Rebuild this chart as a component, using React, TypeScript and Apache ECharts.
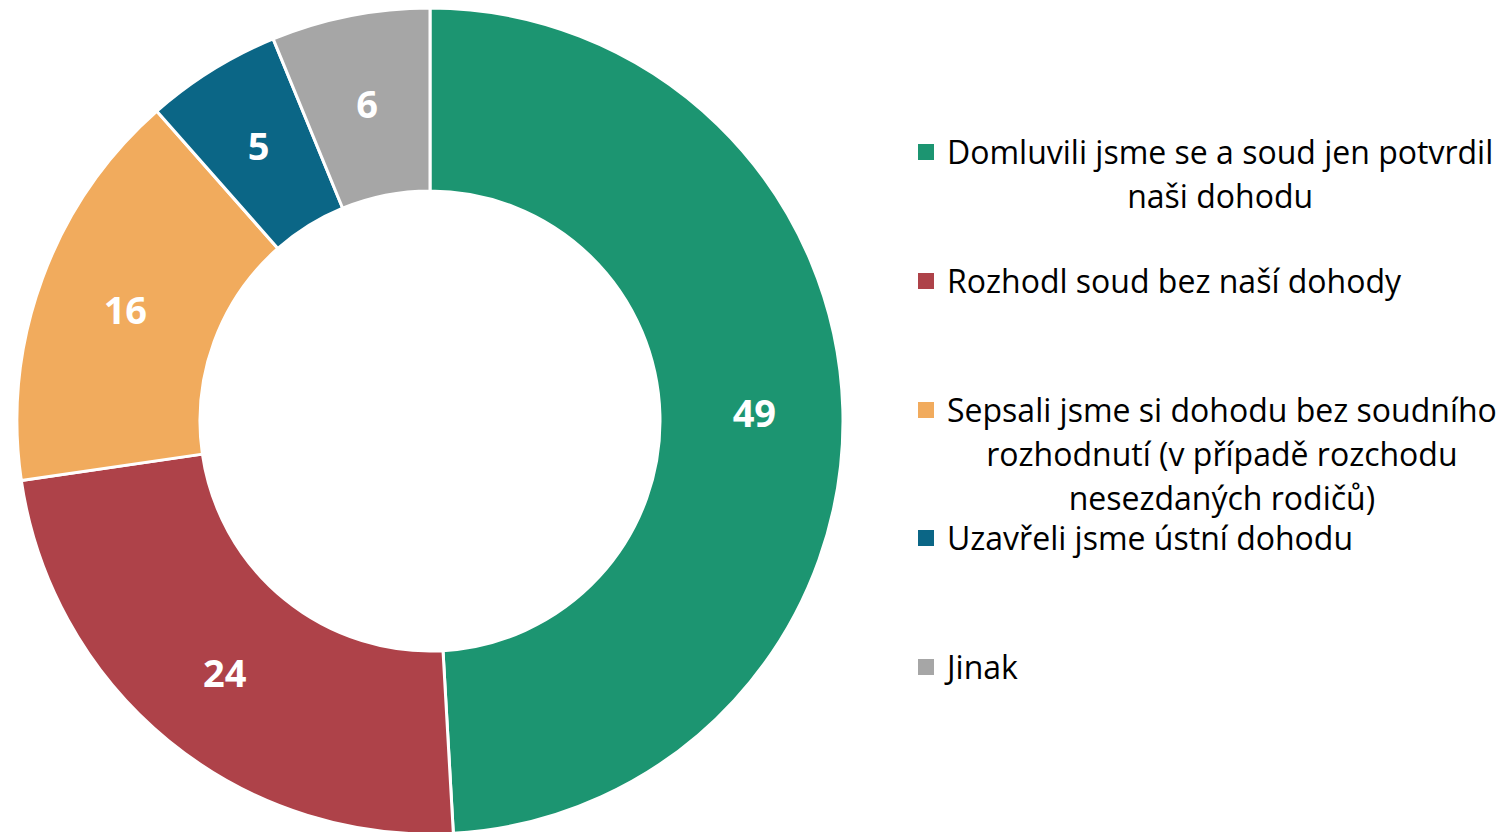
import React, { useEffect, useRef } from "react";
import * as echarts from "echarts";

const categories = [
  ["Domluvili jsme se a soud jen potvrdil", "naši dohodu"],
  ["Rozhodl soud bez naší dohody"],
  ["Sepsali jsme si dohodu bez soudního", "rozhodnutí (v případě rozchodu", "nesezdaných rodičů)"],
  ["Uzavřeli jsme ústní dohodu"],
  ["Jinak"],
];
const values = [49.1, 23.6, 15.8, 5.3, 6.2];
const colors = ["#1C9571", "#AE4249", "#F1AB5D", "#0B6686", "#A6A6A6"];
const legendLineY = [152, 281, 410, 538, 667];

const FONT = "'Open Sans', 'Noto Sans', sans-serif";

export default function App() {
  const ref = useRef<HTMLDivElement>(null);
  useEffect(() => {
    document.body.style.margin = "0";
    const chart = echarts.init(ref.current!, undefined, { renderer: "svg" });
    const lineH = 44;
    const graphics: any[] = [];
    categories.forEach((lines, i) => {
      const y0 = legendLineY[i];
      graphics.push({
        type: "rect",
        shape: { x: 918, y: y0 - 8, width: 16, height: 16 },
        style: { fill: colors[i] },
      });
      graphics.push({
        type: "text",
        x: 947,
        y: y0 - lineH / 2 - 1,
        style: {
          text: lines.map((l) => `{c|${l}}`).join("\n"),
          align: "left",
          verticalAlign: "top",
          rich: {
            c: {
              align: "center",
              fontFamily: FONT,
              fontSize: 32,
              lineHeight: lineH,
              fill: "#000",
            },
          },
        },
      });
    });
    chart.setOption({
      animation: false,
      graphic: graphics,
      series: [
        {
          type: "pie",
          center: [430, 421],
          radius: [230, 413],
          startAngle: 90,
          clockwise: true,
          avoidLabelOverlap: false,
          itemStyle: { borderColor: "#fff", borderWidth: 3 },
          label: {
            show: true,
            position: "inside",
            formatter: (p: any) => String(Math.round(p.value)),
            color: "#fff",
            fontFamily: FONT,
            fontWeight: "bold",
            fontSize: 38,
          },
          labelLine: { show: false },
          emphasis: { disabled: true },
          data: values.map((v, i) => ({
            value: v,
            name: categories[i].join(" "),
            itemStyle: { color: colors[i] },
          })),
        },
      ],
    });
    return () => chart.dispose();
  }, []);
  return <div ref={ref} style={{ width: 1506, height: 832 }} />;
}
